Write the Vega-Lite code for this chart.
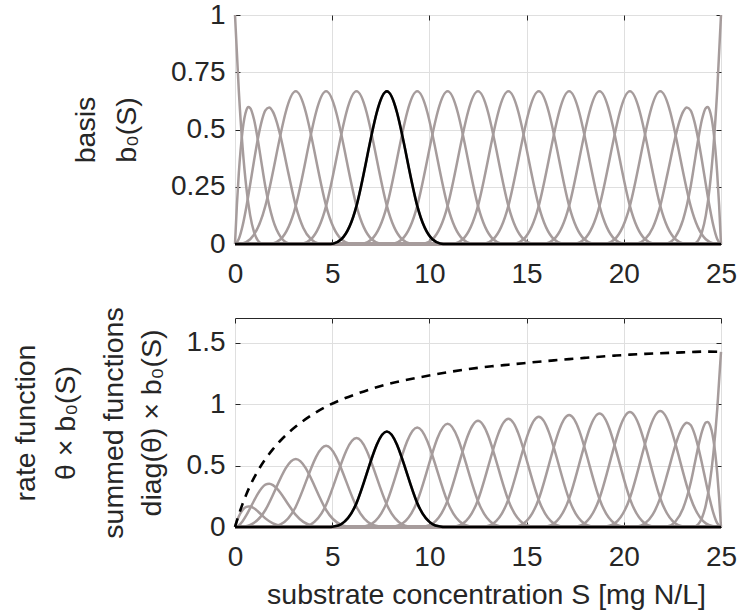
{
  "$schema": "https://vega.github.io/schema/vega-lite/v6.json",
  "padding": {"left": 10, "top": 0, "right": 5, "bottom": 5},
  "spacing": 17,
  "config": {
    "view": {"stroke": "#262626", "strokeWidth": 1},
    "font": "Liberation Sans",
    "axis": {
      "labelFont": "Liberation Sans", "labelFontSize": 28, "labelColor": "#262626",
      "titleFont": "Liberation Sans", "titleFontSize": 28.5, "titleFontWeight": "normal", "titleColor": "#262626",
      "titleLineHeight": 41,
      "domain": false, "grid": true, "gridColor": "#dfdfdf", "gridWidth": 1,
      "tickColor": "#262626", "tickSize": -5, "tickWidth": 1,
      "labelFlush": false, "labelOverlap": false
    }
  },
  "datasets": {
    "grid": [
      {"x":0,"b3":0,"b4":0,"b5":0,"b6":0,"b7":0,"b8":0,"b9":0,"b10":0,"b11":0,"b12":0,"b13":0,"b14":0,"b15":0,"s3":0,"s4":0,"s5":0,"s6":0,"s7":0,"s8":0,"s9":0,"s10":0,"s11":0,"s12":0,"s13":0,"s14":0,"s15":0},
      {"x":1.5625,"b3":0.166667,"b4":0,"b5":0,"b6":0,"b7":0,"b8":0,"b9":0,"b10":0,"b11":0,"b12":0,"b13":0,"b14":0,"b15":0,"s3":0.138333,"s4":0,"s5":0,"s6":0,"s7":0,"s8":0,"s9":0,"s10":0,"s11":0,"s12":0,"s13":0,"s14":0,"s15":0},
      {"x":3.125,"b3":0.666667,"b4":0.166667,"b5":0,"b6":0,"b7":0,"b8":0,"b9":0,"b10":0,"b11":0,"b12":0,"b13":0,"b14":0,"b15":0,"s3":0.553333,"s4":0.165,"s5":0,"s6":0,"s7":0,"s8":0,"s9":0,"s10":0,"s11":0,"s12":0,"s13":0,"s14":0,"s15":0},
      {"x":4.6875,"b3":0.166667,"b4":0.666667,"b5":0.166667,"b6":0,"b7":0,"b8":0,"b9":0,"b10":0,"b11":0,"b12":0,"b13":0,"b14":0,"b15":0,"s3":0.138333,"s4":0.66,"s5":0.180833,"s6":0,"s7":0,"s8":0,"s9":0,"s10":0,"s11":0,"s12":0,"s13":0,"s14":0,"s15":0},
      {"x":6.25,"b3":0,"b4":0.166667,"b5":0.666667,"b6":0.166667,"b7":0,"b8":0,"b9":0,"b10":0,"b11":0,"b12":0,"b13":0,"b14":0,"b15":0,"s3":0,"s4":0.165,"s5":0.723333,"s6":0.194167,"s7":0,"s8":0,"s9":0,"s10":0,"s11":0,"s12":0,"s13":0,"s14":0,"s15":0},
      {"x":7.8125,"b3":0,"b4":0,"b5":0.166667,"b6":0.666667,"b7":0.166667,"b8":0,"b9":0,"b10":0,"b11":0,"b12":0,"b13":0,"b14":0,"b15":0,"s3":0,"s4":0,"s5":0.180833,"s6":0.776667,"s7":0.2025,"s8":0,"s9":0,"s10":0,"s11":0,"s12":0,"s13":0,"s14":0,"s15":0},
      {"x":9.375,"b3":0,"b4":0,"b5":0,"b6":0.166667,"b7":0.666667,"b8":0.166667,"b9":0,"b10":0,"b11":0,"b12":0,"b13":0,"b14":0,"b15":0,"s3":0,"s4":0,"s5":0,"s6":0.194167,"s7":0.81,"s8":0.21,"s9":0,"s10":0,"s11":0,"s12":0,"s13":0,"s14":0,"s15":0},
      {"x":10.9375,"b3":0,"b4":0,"b5":0,"b6":0,"b7":0.166667,"b8":0.666667,"b9":0.166667,"b10":0,"b11":0,"b12":0,"b13":0,"b14":0,"b15":0,"s3":0,"s4":0,"s5":0,"s6":0,"s7":0.2025,"s8":0.84,"s9":0.216167,"s10":0,"s11":0,"s12":0,"s13":0,"s14":0,"s15":0},
      {"x":12.5,"b3":0,"b4":0,"b5":0,"b6":0,"b7":0,"b8":0.166667,"b9":0.666667,"b10":0.166667,"b11":0,"b12":0,"b13":0,"b14":0,"b15":0,"s3":0,"s4":0,"s5":0,"s6":0,"s7":0,"s8":0.21,"s9":0.864667,"s10":0.22,"s11":0,"s12":0,"s13":0,"s14":0,"s15":0},
      {"x":14.0625,"b3":0,"b4":0,"b5":0,"b6":0,"b7":0,"b8":0,"b9":0.166667,"b10":0.666667,"b11":0.166667,"b12":0,"b13":0,"b14":0,"b15":0,"s3":0,"s4":0,"s5":0,"s6":0,"s7":0,"s8":0,"s9":0.216167,"s10":0.88,"s11":0.224167,"s12":0,"s13":0,"s14":0,"s15":0},
      {"x":15.625,"b3":0,"b4":0,"b5":0,"b6":0,"b7":0,"b8":0,"b9":0,"b10":0.166667,"b11":0.666667,"b12":0.166667,"b13":0,"b14":0,"b15":0,"s3":0,"s4":0,"s5":0,"s6":0,"s7":0,"s8":0,"s9":0,"s10":0.22,"s11":0.896667,"s12":0.227667,"s13":0,"s14":0,"s15":0},
      {"x":17.1875,"b3":0,"b4":0,"b5":0,"b6":0,"b7":0,"b8":0,"b9":0,"b10":0,"b11":0.166667,"b12":0.666667,"b13":0.166667,"b14":0,"b15":0,"s3":0,"s4":0,"s5":0,"s6":0,"s7":0,"s8":0,"s9":0,"s10":0,"s11":0.224167,"s12":0.910667,"s13":0.230833,"s14":0,"s15":0},
      {"x":18.75,"b3":0,"b4":0,"b5":0,"b6":0,"b7":0,"b8":0,"b9":0,"b10":0,"b11":0,"b12":0.166667,"b13":0.666667,"b14":0.166667,"b15":0,"s3":0,"s4":0,"s5":0,"s6":0,"s7":0,"s8":0,"s9":0,"s10":0,"s11":0,"s12":0.227667,"s13":0.923333,"s14":0.233833,"s15":0},
      {"x":20.3125,"b3":0,"b4":0,"b5":0,"b6":0,"b7":0,"b8":0,"b9":0,"b10":0,"b11":0,"b12":0,"b13":0.166667,"b14":0.666667,"b15":0.166667,"s3":0,"s4":0,"s5":0,"s6":0,"s7":0,"s8":0,"s9":0,"s10":0,"s11":0,"s12":0,"s13":0.230833,"s14":0.935333,"s15":0.235667},
      {"x":21.875,"b3":0,"b4":0,"b5":0,"b6":0,"b7":0,"b8":0,"b9":0,"b10":0,"b11":0,"b12":0,"b13":0,"b14":0.166667,"b15":0.666667,"s3":0,"s4":0,"s5":0,"s6":0,"s7":0,"s8":0,"s9":0,"s10":0,"s11":0,"s12":0,"s13":0,"s14":0.233833,"s15":0.942667},
      {"x":23.4375,"b3":0,"b4":0,"b5":0,"b6":0,"b7":0,"b8":0,"b9":0,"b10":0,"b11":0,"b12":0,"b13":0,"b14":0,"b15":0.166667,"s3":0,"s4":0,"s5":0,"s6":0,"s7":0,"s8":0,"s9":0,"s10":0,"s11":0,"s12":0,"s13":0,"s14":0,"s15":0.235667},
      {"x":25,"b3":0,"b4":0,"b5":0,"b6":0,"b7":0,"b8":0,"b9":0,"b10":0,"b11":0,"b12":0,"b13":0,"b14":0,"b15":0,"s3":0,"s4":0,"s5":0,"s6":0,"s7":0,"s8":0,"s9":0,"s10":0,"s11":0,"s12":0,"s13":0,"s14":0,"s15":0}
    ],
    "endsTop": [
      {"fn":"b0","x":0,"y":1},{"fn":"b0","x":0.195313,"y":0.669922},{"fn":"b0","x":0.390625,"y":0.421875},{"fn":"b0","x":0.585938,"y":0.244141},{"fn":"b0","x":0.78125,"y":0.125},{"fn":"b0","x":0.976563,"y":0.052734},{"fn":"b0","x":1.171875,"y":0.015625},{"fn":"b0","x":1.367188,"y":0.001953},{"fn":"b0","x":1.5625,"y":0},{"fn":"b0","x":25,"y":0},
      {"fn":"b1","x":0,"y":0},{"fn":"b1","x":0.097656,"y":0.170349},{"fn":"b1","x":0.195313,"y":0.308105},{"fn":"b1","x":0.390625,"y":0.496094},{"fn":"b1","x":0.585938,"y":0.584473},{"fn":"b1","x":0.683594,"y":0.597717},{"fn":"b1","x":0.78125,"y":0.59375},{"fn":"b1","x":0.976563,"y":0.544434},{"fn":"b1","x":1.171875,"y":0.457031},{"fn":"b1","x":1.367188,"y":0.352051},{"fn":"b1","x":1.5625,"y":0.25},{"fn":"b1","x":1.953125,"y":0.105469},{"fn":"b1","x":2.34375,"y":0.03125},{"fn":"b1","x":2.734375,"y":0.003906},{"fn":"b1","x":3.125,"y":0},{"fn":"b1","x":25,"y":0},
      {"fn":"b2","x":0,"y":0},{"fn":"b2","x":0.195313,"y":0.021647},{"fn":"b2","x":0.390625,"y":0.079427},{"fn":"b2","x":0.585938,"y":0.162598},{"fn":"b2","x":0.78125,"y":0.260417},{"fn":"b2","x":0.976563,"y":0.362142},{"fn":"b2","x":1.171875,"y":0.457031},{"fn":"b2","x":1.367188,"y":0.534342},{"fn":"b2","x":1.5625,"y":0.583333},{"fn":"b2","x":1.757813,"y":0.596191},{"fn":"b2","x":1.953125,"y":0.576823},{"fn":"b2","x":2.148438,"y":0.532064},{"fn":"b2","x":2.34375,"y":0.46875},{"fn":"b2","x":2.734375,"y":0.313802},{"fn":"b2","x":3.125,"y":0.166667},{"fn":"b2","x":3.515625,"y":0.070313},{"fn":"b2","x":3.90625,"y":0.020833},{"fn":"b2","x":4.296875,"y":0.002604},{"fn":"b2","x":4.6875,"y":0},{"fn":"b2","x":25,"y":0},
      {"fn":"b16","x":0,"y":0},{"fn":"b16","x":20.3125,"y":0},{"fn":"b16","x":20.703125,"y":0.002604},{"fn":"b16","x":21.09375,"y":0.020833},{"fn":"b16","x":21.484375,"y":0.070313},{"fn":"b16","x":21.875,"y":0.166667},{"fn":"b16","x":22.265625,"y":0.313802},{"fn":"b16","x":22.65625,"y":0.46875},{"fn":"b16","x":22.851563,"y":0.532064},{"fn":"b16","x":23.046875,"y":0.576823},{"fn":"b16","x":23.242188,"y":0.596191},{"fn":"b16","x":23.4375,"y":0.583333},{"fn":"b16","x":23.632813,"y":0.534342},{"fn":"b16","x":23.828125,"y":0.457031},{"fn":"b16","x":24.023438,"y":0.362142},{"fn":"b16","x":24.21875,"y":0.260417},{"fn":"b16","x":24.414063,"y":0.162598},{"fn":"b16","x":24.609375,"y":0.079427},{"fn":"b16","x":24.804688,"y":0.021647},{"fn":"b16","x":25,"y":0},
      {"fn":"b17","x":0,"y":0},{"fn":"b17","x":21.875,"y":0},{"fn":"b17","x":22.265625,"y":0.003906},{"fn":"b17","x":22.65625,"y":0.03125},{"fn":"b17","x":23.046875,"y":0.105469},{"fn":"b17","x":23.4375,"y":0.25},{"fn":"b17","x":23.632813,"y":0.352051},{"fn":"b17","x":23.828125,"y":0.457031},{"fn":"b17","x":24.023438,"y":0.544434},{"fn":"b17","x":24.21875,"y":0.59375},{"fn":"b17","x":24.316406,"y":0.597717},{"fn":"b17","x":24.414063,"y":0.584473},{"fn":"b17","x":24.609375,"y":0.496094},{"fn":"b17","x":24.804688,"y":0.308105},{"fn":"b17","x":24.902344,"y":0.170349},{"fn":"b17","x":25,"y":0},
      {"fn":"b18","x":0,"y":0},{"fn":"b18","x":23.4375,"y":0},{"fn":"b18","x":23.632813,"y":0.001953},{"fn":"b18","x":23.828125,"y":0.015625},{"fn":"b18","x":24.023438,"y":0.052734},{"fn":"b18","x":24.21875,"y":0.125},{"fn":"b18","x":24.414063,"y":0.244141},{"fn":"b18","x":24.609375,"y":0.421875},{"fn":"b18","x":24.804688,"y":0.669922},{"fn":"b18","x":25,"y":1}
    ],
    "endsBottom": [
      {"fn":"s0","x":0,"y":0},{"fn":"s0","x":25,"y":0},
      {"fn":"s1","x":0,"y":0},{"fn":"s1","x":0.097656,"y":0.047698},{"fn":"s1","x":0.195313,"y":0.086269},{"fn":"s1","x":0.390625,"y":0.138906},{"fn":"s1","x":0.585938,"y":0.163652},{"fn":"s1","x":0.683594,"y":0.167361},{"fn":"s1","x":0.78125,"y":0.16625},{"fn":"s1","x":0.976563,"y":0.152442},{"fn":"s1","x":1.171875,"y":0.127969},{"fn":"s1","x":1.367188,"y":0.098574},{"fn":"s1","x":1.5625,"y":0.07},{"fn":"s1","x":1.953125,"y":0.029531},{"fn":"s1","x":2.34375,"y":0.00875},{"fn":"s1","x":2.734375,"y":0.001094},{"fn":"s1","x":3.125,"y":0},{"fn":"s1","x":25,"y":0},
      {"fn":"s2","x":0,"y":0},{"fn":"s2","x":0.195313,"y":0.012772},{"fn":"s2","x":0.390625,"y":0.046862},{"fn":"s2","x":0.585938,"y":0.095933},{"fn":"s2","x":0.78125,"y":0.153646},{"fn":"s2","x":0.976563,"y":0.213664},{"fn":"s2","x":1.171875,"y":0.269648},{"fn":"s2","x":1.367188,"y":0.315262},{"fn":"s2","x":1.5625,"y":0.344167},{"fn":"s2","x":1.757813,"y":0.351753},{"fn":"s2","x":1.953125,"y":0.340326},{"fn":"s2","x":2.148438,"y":0.313918},{"fn":"s2","x":2.34375,"y":0.276563},{"fn":"s2","x":2.734375,"y":0.185143},{"fn":"s2","x":3.125,"y":0.098333},{"fn":"s2","x":3.515625,"y":0.041484},{"fn":"s2","x":3.90625,"y":0.012292},{"fn":"s2","x":4.296875,"y":0.001536},{"fn":"s2","x":4.6875,"y":0},{"fn":"s2","x":25,"y":0},
      {"fn":"s16","x":0,"y":0},{"fn":"s16","x":20.3125,"y":0},{"fn":"s16","x":20.703125,"y":0.003703},{"fn":"s16","x":21.09375,"y":0.029625},{"fn":"s16","x":21.484375,"y":0.099985},{"fn":"s16","x":21.875,"y":0.237},{"fn":"s16","x":22.265625,"y":0.446226},{"fn":"s16","x":22.65625,"y":0.666563},{"fn":"s16","x":22.851563,"y":0.756595},{"fn":"s16","x":23.046875,"y":0.820242},{"fn":"s16","x":23.242188,"y":0.847784},{"fn":"s16","x":23.4375,"y":0.8295},{"fn":"s16","x":23.632813,"y":0.759834},{"fn":"s16","x":23.828125,"y":0.649898},{"fn":"s16","x":24.023438,"y":0.514966},{"fn":"s16","x":24.21875,"y":0.370313},{"fn":"s16","x":24.414063,"y":0.231214},{"fn":"s16","x":24.609375,"y":0.112945},{"fn":"s16","x":24.804688,"y":0.030782},{"fn":"s16","x":25,"y":0},
      {"fn":"s17","x":0,"y":0},{"fn":"s17","x":21.875,"y":0},{"fn":"s17","x":22.265625,"y":0.005586},{"fn":"s17","x":22.65625,"y":0.044688},{"fn":"s17","x":23.046875,"y":0.150821},{"fn":"s17","x":23.4375,"y":0.3575},{"fn":"s17","x":23.632813,"y":0.503433},{"fn":"s17","x":23.828125,"y":0.653554},{"fn":"s17","x":24.023438,"y":0.778541},{"fn":"s17","x":24.21875,"y":0.849063},{"fn":"s17","x":24.316406,"y":0.854735},{"fn":"s17","x":24.414063,"y":0.835796},{"fn":"s17","x":24.609375,"y":0.709414},{"fn":"s17","x":24.804688,"y":0.4406},{"fn":"s17","x":24.902344,"y":0.243599},{"fn":"s17","x":25,"y":0},
      {"fn":"s18","x":0,"y":0},{"fn":"s18","x":23.4375,"y":0},{"fn":"s18","x":23.632813,"y":0.002783},{"fn":"s18","x":23.828125,"y":0.022266},{"fn":"s18","x":24.023438,"y":0.075146},{"fn":"s18","x":24.21875,"y":0.178125},{"fn":"s18","x":24.414063,"y":0.347901},{"fn":"s18","x":24.609375,"y":0.601172},{"fn":"s18","x":24.804688,"y":0.954639},{"fn":"s18","x":25,"y":1.425}
    ],
    "sum": [
      {"x":0,"y":0},{"x":0.097656,"y":0.051057},{"x":0.195313,"y":0.099311},{"x":0.390625,"y":0.187929},{"x":0.585938,"y":0.26688},{"x":0.78125,"y":0.337188},{"x":0.976563,"y":0.399879},{"x":1.171875,"y":0.455977},{"x":1.367188,"y":0.506509},{"x":1.5625,"y":0.5525},{"x":1.953125,"y":0.633971},{"x":2.34375,"y":0.703647},{"x":2.734375,"y":0.76379},{"x":3.125,"y":0.816667},{"x":3.90625,"y":0.90698},{"x":4.6875,"y":0.979167},{"x":5.46875,"y":1.035833},{"x":6.25,"y":1.0825},{"x":7.03125,"y":1.124063},{"x":7.8125,"y":1.16},{"x":8.59375,"y":1.189271},{"x":9.375,"y":1.214167},{"x":10.15625,"y":1.237229},{"x":10.9375,"y":1.258667},{"x":11.71875,"y":1.278042},{"x":12.5,"y":1.294667},{"x":13.28125,"y":1.30825},{"x":14.0625,"y":1.320333},{"x":14.84375,"y":1.332459},{"x":15.625,"y":1.344333},{"x":16.40625,"y":1.355375},{"x":17.1875,"y":1.365667},{"x":17.96875,"y":1.375437},{"x":18.75,"y":1.384833},{"x":19.53125,"y":1.393834},{"x":20.3125,"y":1.401833},{"x":21.09375,"y":1.408292},{"x":21.875,"y":1.4135},{"x":22.65625,"y":1.418022},{"x":23.4375,"y":1.422667},{"x":24.21875,"y":1.426959},{"x":25,"y":1.425}
    ]
  },
  "vconcat": [
    {
      "width": 486, "height": 229,
      "resolve": {"axis": {"x": "independent", "y": "independent"}},
      "layer": [
        {
          "data": {"name": "grid"},
          "transform": [{"fold": ["b3","b4","b5","b6","b7","b8","b9","b10","b11","b12","b13","b14","b15"], "as": ["fn","y"]}],
          "mark": {"type": "line", "interpolate": "natural", "color": "#a69c9c", "strokeWidth": 2.5},
          "encoding": {
            "x": {"field": "x", "type": "quantitative", "scale": {"domain": [0, 25], "nice": false},
                  "axis": {"orient": "bottom", "values": [0,5,10,15,20,25], "title": null, "labelPadding": 21}},
            "y": {"field": "y", "type": "quantitative", "scale": {"domain": [0, 1], "nice": false},
                  "axis": {"orient": "left", "values": [0,0.25,0.5,0.75,1], "format": ".2~f", "title": ["basis", "b₀(S)"], "labelPadding": 15, "titlePadding": 29}},
            "detail": {"field": "fn"}
          }
        },
        {
          "data": {"name": "endsTop"},
          "mark": {"type": "line", "interpolate": "monotone", "color": "#a69c9c", "strokeWidth": 2.5},
          "encoding": {
            "x": {"field": "x", "type": "quantitative", "scale": {"domain": [0, 25], "nice": false}, "axis": null},
            "y": {"field": "y", "type": "quantitative", "scale": {"domain": [0, 1], "nice": false}, "axis": null},
            "detail": {"field": "fn"}
          }
        },
        {
          "data": {"name": "grid"},
          "transform": [{"fold": ["b6"], "as": ["fn","y"]}],
          "mark": {"type": "line", "interpolate": "natural", "color": "#000000", "strokeWidth": 2.6},
          "encoding": {
            "x": {"field": "x", "type": "quantitative", "scale": {"domain": [0, 25], "nice": false},
                  "axis": {"orient": "top", "values": [0,5,10,15,20,25], "labels": false, "grid": false, "title": null}},
            "y": {"field": "y", "type": "quantitative", "scale": {"domain": [0, 1], "nice": false},
                  "axis": {"orient": "right", "values": [0,0.25,0.5,0.75,1], "labels": false, "grid": false, "title": null}}
          }
        }
      ]
    },
    {
      "width": 486, "height": 209,
      "resolve": {"axis": {"x": "independent", "y": "independent"}},
      "layer": [
        {
          "data": {"name": "grid"},
          "transform": [{"fold": ["s3","s4","s5","s6","s7","s8","s9","s10","s11","s12","s13","s14","s15"], "as": ["fn","y"]}],
          "mark": {"type": "line", "interpolate": "natural", "color": "#a69c9c", "strokeWidth": 2.5},
          "encoding": {
            "x": {"field": "x", "type": "quantitative", "scale": {"domain": [0, 25], "nice": false},
                  "axis": {"orient": "bottom", "values": [0,5,10,15,20,25], "title": "substrate concentration S [mg N/L]", "labelPadding": 21, "titlePadding": 9, "titleX": 251, "titleAlign": "center"}},
            "y": {"field": "y", "type": "quantitative", "scale": {"domain": [0, 1.7], "nice": false},
                  "axis": {"orient": "left", "values": [0,0.5,1,1.5], "format": ".2~f", "title": ["summed functions", "diag(θ) × b₀(S)"], "labelPadding": 15, "titlePadding": 20, "titleLineHeight": 38}},
            "detail": {"field": "fn"}
          }
        },
        {
          "data": {"name": "endsBottom"},
          "mark": {"type": "line", "interpolate": "monotone", "color": "#a69c9c", "strokeWidth": 2.5},
          "encoding": {
            "x": {"field": "x", "type": "quantitative", "scale": {"domain": [0, 25], "nice": false}, "axis": null},
            "y": {"field": "y", "type": "quantitative", "scale": {"domain": [0, 1.7], "nice": false}, "axis": null},
            "detail": {"field": "fn"}
          }
        },
        {
          "data": {"name": "grid"},
          "transform": [{"fold": ["s6"], "as": ["fn","y"]}],
          "mark": {"type": "line", "interpolate": "natural", "color": "#000000", "strokeWidth": 2.6},
          "encoding": {
            "x": {"field": "x", "type": "quantitative", "scale": {"domain": [0, 25], "nice": false}, "axis": null},
            "y": {"field": "y", "type": "quantitative", "scale": {"domain": [0, 1.7], "nice": false},
                  "axis": {"orient": "left", "labels": false, "ticks": false, "grid": false, "domain": false, "minExtent": 0, "title": ["rate function", "θ × b₀(S)"], "titlePadding": 155, "titleLineHeight": 40}}
          }
        },
        {
          "data": {"name": "sum"},
          "mark": {"type": "line", "interpolate": "monotone", "color": "#000000", "strokeWidth": 2.6, "strokeDash": [9, 7]},
          "encoding": {
            "x": {"field": "x", "type": "quantitative", "scale": {"domain": [0, 25], "nice": false},
                  "axis": {"orient": "top", "values": [0,5,10,15,20,25], "labels": false, "grid": false, "title": null}},
            "y": {"field": "y", "type": "quantitative", "scale": {"domain": [0, 1.7], "nice": false},
                  "axis": {"orient": "right", "values": [0,0.5,1,1.5], "labels": false, "grid": false, "title": null}}
          }
        }
      ]
    }
  ]
}
